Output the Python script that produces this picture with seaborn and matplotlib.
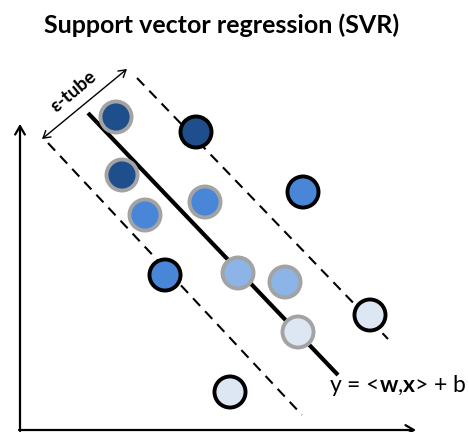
import matplotlib
matplotlib.use("Agg")
import matplotlib.pyplot as plt
import seaborn as sns
import pandas as pd
import numpy as np

# ---- data (pixel-like coordinates, y grows downward) ----
pt_x = [116, 196, 122, 145, 205, 303, 165, 238, 285, 298, 370, 230]
pt_y = [117, 132, 175, 215, 202, 192, 275, 273, 282, 332, 315, 392]
shade = ["dark", "dark", "dark", "medium", "medium", "medium", "medium",
         "light", "light", "pale", "pale", "pale"]
edge = ["gray", "black", "gray", "gray", "gray", "black", "black",
        "gray", "gray", "gray", "black", "black"]

# regression line and epsilon-tube boundaries: (x_start, x_end), (y_start, y_end)
center_line = [(88, 338), (113, 375)]
upper_line = [(137, 388), (78, 339)]
lower_line = [(48, 302), (143, 415)]

title = "Support vector regression (SVR)"
tube_label = "ε-tube"

palette = {"dark": "#1f4e8c", "medium": "#4a86d8", "light": "#8cb4e6", "pale": "#dde7f4"}
edge_colors = {"gray": "#a3a3a3", "black": "#000000"}

sns.set_style("white")
plt.rcParams["font.family"] = ["Lato", "DejaVu Sans"]
plt.rcParams["text.color"] = "black"
plt.rcParams["mathtext.fontset"] = "custom"
plt.rcParams["mathtext.rm"] = "Lato"
plt.rcParams["mathtext.bf"] = "Lato:bold"

fig = plt.figure(figsize=(4.69, 4.32), dpi=100)
ax = fig.add_axes([0, 0, 1, 1])
ax.set_xlim(0, 469)
ax.set_ylim(432, 0)
ax.axis("off")

df = pd.DataFrame({"x": pt_x, "y": pt_y, "shade": shade, "edge": edge})

# lines
ax.plot(center_line[0], center_line[1], color="black", lw=3.0, zorder=2,
        solid_capstyle="butt")
ax.plot(upper_line[0], upper_line[1], color="black", lw=1.5, ls=(0, (5, 3.5)), zorder=2)
ax.plot(lower_line[0], lower_line[1], color="black", lw=1.5, ls=(0, (5, 3.5)), zorder=2)

# points
for e, sub in df.groupby("edge"):
    sns.scatterplot(data=sub, x="x", y="y", hue="shade", palette=palette,
                    s=500, edgecolor=edge_colors[e], linewidth=2.8,
                    legend=False, ax=ax, zorder=3)

# axes arrows
ax.annotate("", xy=(20, 124), xytext=(20, 431),
            arrowprops=dict(arrowstyle="->,head_length=0.6,head_width=0.35",
                            lw=1.6, color="black", shrinkA=0, shrinkB=0))
ax.annotate("", xy=(416, 430), xytext=(19, 430),
            arrowprops=dict(arrowstyle="->,head_length=0.6,head_width=0.35",
                            lw=1.6, color="black", shrinkA=0, shrinkB=0))

# epsilon-tube double arrow
ax.annotate("", xy=(127, 69), xytext=(42, 139),
            arrowprops=dict(arrowstyle="<->,head_length=0.5,head_width=0.3",
                            lw=1.0, color="black", shrinkA=0, shrinkB=0))
ax.text(73, 91, tube_label, rotation=40, fontsize=13.5, fontweight="bold",
        ha="center", va="center", color="black")

# title and formula
ax.text(222, 25, title, fontsize=18, fontweight="bold", ha="center", va="center",
        color="black")
ax.text(467, 385, r"y = <$\mathbf{w}$,$\mathbf{x}$> + b", fontsize=16.5,
        ha="right", va="center", color="black")

fig.savefig("out.png", dpi=100)
